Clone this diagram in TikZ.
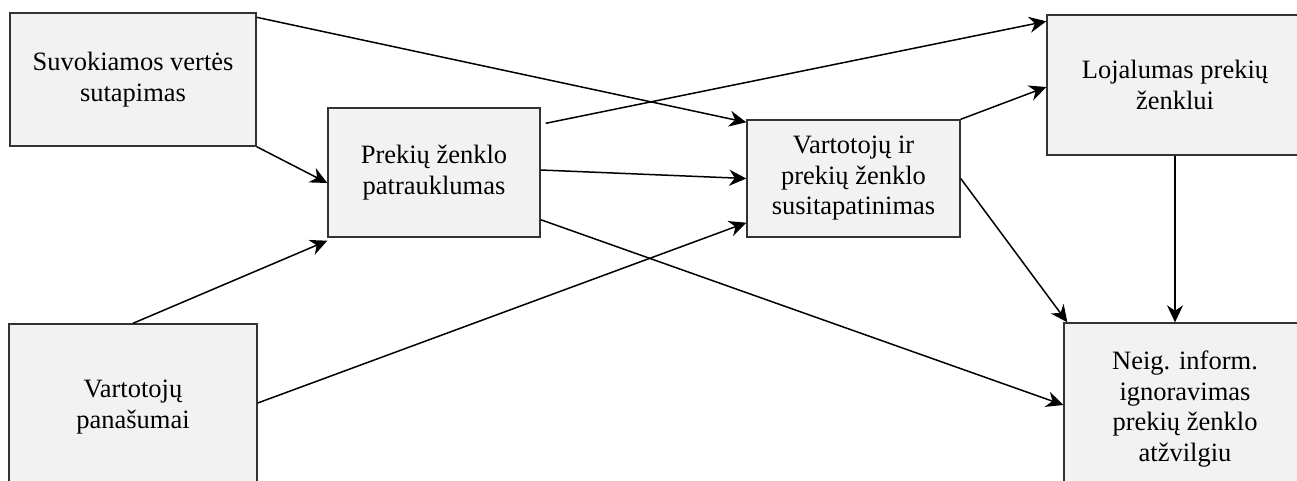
\documentclass[tikz,border=0pt]{standalone}
\usepackage{fontspec}
\setmainfont{Liberation Serif}
\newfontfamily\boxfont{Liberation Serif}
\usetikzlibrary{arrows.meta,calc}
\begin{document}
\begin{tikzpicture}[x=1pt,y=-1pt,
  factor/.style={draw=black!80,line width=1.4pt,fill=black!5,inner sep=0pt,
    align=center,font=\boxfont\fontsize{26.5}{30.5}\selectfont},
  link/.style={line width=1.5pt,-{Stealth[length=17pt,width=16pt,inset=5.5pt]}}]
\useasboundingbox (0,0) rectangle (1297,480);
\clip (0,0) rectangle (1297,480);
\fill[white] (0,0) rectangle (1297,480);

% factor boxes (right and bottom ones run past the edge)
\node[factor,minimum width=246pt,minimum height=133pt] (A) at (133,79.5)
  {Suvokiamos vertės\\sutapimas};
\node[factor,minimum width=212pt,minimum height=129pt] (B) at (434,172.5)
  {Prekių ženklo\\patrauklumas};
\node[factor,minimum width=248pt,minimum height=166pt] (C) at (133,407)
  {Vartotojų\\panašumai};
\node[factor,minimum width=213pt,minimum height=117pt] (D) at (853.5,178.5)
  {Vartotojų ir\\prekių ženklo\\susitapatinimas};
\node[factor,minimum width=256pt,minimum height=140pt] (E) at (1175,85)
  {Lojalumas prekių\\ženklui};
\node[factor,minimum width=242pt,minimum height=172pt] (F) at (1185,409)
  {Neig. inform.\\ignoravimas\\prekių ženklo\\atžvilgiu};

% connectors
\draw[link] ([yshift=-5pt]A.north east) -- ([yshift=-3pt]D.north west);
\draw[link] (A.south east) -- ([yshift=-10.5pt]B.west);
\draw[link] (C.north) -- ([yshift=-3pt]B.south west);
\draw[link] ([yshift=4pt]C.east) -- ([yshift=15pt]D.south west);
\draw[link] ([xshift=5pt,yshift=-16pt]B.north east) -- ([yshift=-7pt]E.north west);
\draw[link] ([yshift=2.5pt]B.east) -- (D.west);
\draw[link] ([yshift=18pt]B.south east) -- ([yshift=4pt]F.west);
\draw[link] (D.north east) -- ([yshift=-2pt]E.west);
\draw[link] (D.east) -- ([xshift=4pt]F.north west);
\draw[link,line width=1.2pt] (E.south) -- (E.south |- F.north);
\end{tikzpicture}
\end{document}
